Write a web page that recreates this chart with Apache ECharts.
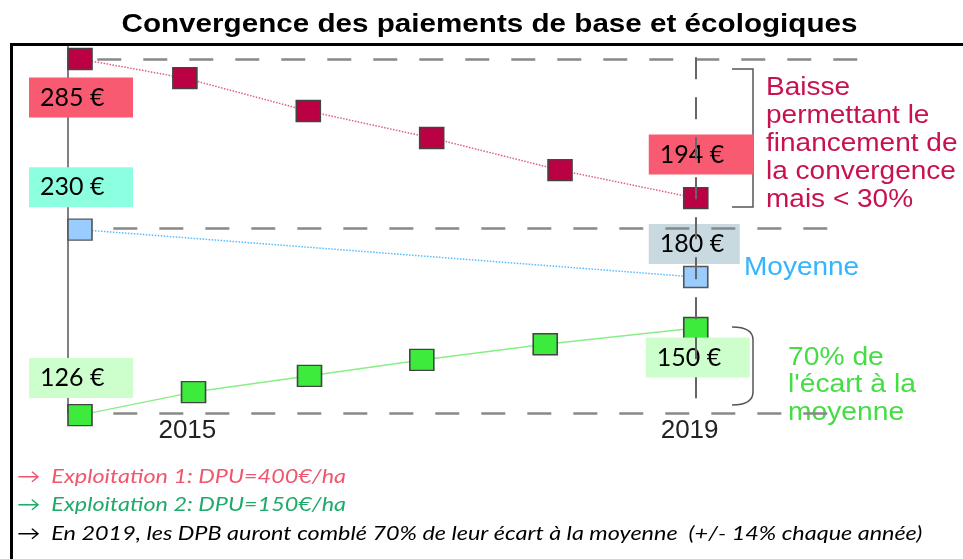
<!DOCTYPE html>
<html><head><meta charset="utf-8">
<script src="https://cdn.jsdelivr.net/npm/echarts@6/dist/echarts.min.js"></script>
<style>html,body{margin:0;padding:0;background:#fff}#c{width:963px;height:559px}</style>
</head><body><div id="c"></div>
<script>
// ---- data (vertical positions are the schematic levels, 0 = 2014 green level, 100 = 2014 red level)
const chartTitle = 'Convergence des paiements de base et écologiques';
const tickLabels = ['2015', '2019'];
const tickPositions = [2014.87, 2018.94];
const redX = [2014, 2014.85, 2015.85, 2016.85, 2017.89, 2018.99];
const redLevel = [100, 94.6, 85.3, 77.7, 68.6, 60.7];
const redEuro = ['285 €', '194 €'];
const blueX = [2014, 2018.99];
const blueLevel = [51.8, 38.4];
const blueEuro = ['230 €', '180 €'];
const greenX = [2014, 2014.92, 2015.86, 2016.77, 2017.77, 2018.99];
const greenLevel = [-0.6, 5.9, 10.5, 15.0, 19.4, 24.0];
const greenEuro = ['126 €', '150 €'];
const guideLevels = [100, 52.3, 0];
const guideStart = [2014.14, 2014.27, 2014.27];
const guideEnd = [2020.30, 2020.09, 2020.08];
const vGuideX = 2018.99;
const vGuideRange = [100.5, 4.2];
const notes = [
  '→  Exploitation 1: DPU=400€/ha',
  '→  Exploitation 2: DPU=150€/ha',
  '→  En 2019, les DPB auront comblé 70% de leur écart à la moyenne  (+/- 14% chaque année)'
];
const annBaisse = 'Baisse\npermettant le\nfinancement de\nla convergence\nmais < 30%';
const annMoy = 'Moyenne';
const annEcart = "70% de\nl'écart à la\nmoyenne";

const chart = echarts.init(document.getElementById('c'), null, {renderer: 'canvas'});

function boxLabel(text, bg, dx, dy, w) {
  return {
    show: true, position: 'inside', formatter: text,
    align: 'left', verticalAlign: 'middle',
    offset: [dx, dy],
    backgroundColor: bg, padding: [0, 0, 0, 11],
    width: w - 11, height: 40, lineHeight: 40,
    fontFamily: 'Lato', fontSize: 25, color: '#000'
  };
}
function build(xs, ys, labels, bg, offs, widths) {
  return xs.map((x, i) => {
    const d = {value: [x, ys[i]]};
    if (i === 0) d.label = boxLabel(labels[0], bg[0], offs[0][0], offs[0][1], widths[0]);
    if (i === xs.length - 1) d.label = boxLabel(labels[1], bg[1], offs[1][0], offs[1][1], widths[1]);
    return d;
  });
}

const guideData = guideLevels.map((lv, i) => [{coord: [guideStart[i], lv]}, {coord: [guideEnd[i], lv]}]);
const bracketStyle = {stroke: '#555', lineWidth: 1.5, fill: null};
const annFont = '25px "Liberation Sans"';
const noteFont = 'italic 19.5px Lato';

const option = {
  animation: false,
  grid: {left: 67.66, width: 814.44, top: 45, height: 368},
  xAxis: {
    type: 'value', min: 2013.9, max: 2020.5,
    axisLine: {show: false}, axisTick: {show: false}, splitLine: {show: false},
    axisLabel: {
      customValues: tickPositions,
      formatter: (v) => { const i = tickPositions.indexOf(v); return i >= 0 ? tickLabels[i] : ''; },
      margin: 5, fontFamily: 'Liberation Sans', fontSize: 26, color: '#222'
    }
  },
  yAxis: {
    type: 'value', min: 0, max: 103.955,
    axisLine: {show: true, lineStyle: {color: '#808080', width: 2}},
    axisTick: {show: false}, axisLabel: {show: false}, splitLine: {show: false}
  },
  series: [
    {
      type: 'line', data: [], z: 1, silent: true,
      markLine: {
        silent: true, symbol: ['none', 'none'], label: {show: false},
        lineStyle: {type: [24, 22], color: '#888', width: 2.5},
        data: guideData.concat([[{coord: [vGuideX, vGuideRange[0]], lineStyle: {type: [22, 18], color: '#666', width: 2}},
                                 {coord: [vGuideX, vGuideRange[1]]}]])
      }
    },
    {
      name: 'Exploitation 1', type: 'line', z: 3, clip: false,
      symbol: 'rect', symbolSize: [24, 21],
      itemStyle: {color: '#BB0044', borderColor: '#444', borderWidth: 1.5},
      lineStyle: {color: '#E0607A', width: 1.5, type: 'dotted'},
      data: build(redX, redLevel, redEuro, ['#F75A71', '#F75A71'], [[-51, 38.5], [-47, -43.5]], [104, 105])
    },
    {
      name: 'Moyenne', type: 'line', z: 3, clip: false,
      symbol: 'rect', symbolSize: [24, 21],
      itemStyle: {color: '#99CCFF', borderColor: '#555', borderWidth: 1.5},
      lineStyle: {color: '#55BBFF', width: 1.5, type: 'dotted'},
      data: build(blueX, blueLevel, blueEuro, ['#8CFFE0', '#C8D9E0'], [[-51, -42.5], [-47, -33]], [104, 91])
    },
    {
      name: 'Exploitation 2', type: 'line', z: 3, clip: false,
      symbol: 'rect', symbolSize: [24, 21],
      itemStyle: {color: '#3DEB3D', borderColor: '#444', borderWidth: 1.5},
      lineStyle: {color: '#88EE88', width: 1.5},
      data: build(greenX, greenLevel, greenEuro, ['#CCFFCC', '#CCFFCC'], [[-51, -37], [-50, 29.5]], [104, 104])
    }
  ],
  graphic: [
    {type: 'text', x: 489.5, y: 25, scaleX: 1.185, style: {text: chartTitle, font: 'bold 25px "Liberation Sans"', fill: '#000', align: 'center', verticalAlign: 'middle'}},
    {type: 'polyline', shape: {points: [[11.5, 559], [11.5, 44.5], [963, 44.5]]}, style: {stroke: '#000', lineWidth: 3, fill: null}, z: 10},
    {type: 'polyline', shape: {points: [[732, 69], [753, 69], [753, 207], [732, 207]]}, style: bracketStyle},
    {type: 'bezierCurve', shape: {x1: 732, y1: 327, cpx1: 753, cpy1: 327, x2: 753, y2: 340}, style: bracketStyle},
    {type: 'line', shape: {x1: 753, y1: 340, x2: 753, y2: 392}, style: bracketStyle},
    {type: 'bezierCurve', shape: {x1: 753, y1: 392, cpx1: 753, cpy1: 405, x2: 732, y2: 405}, style: bracketStyle},
    {type: 'text', x: 766, y: 74, scaleX: 1.12, style: {text: annBaisse, font: annFont, lineHeight: 28, fill: '#C8124F', verticalAlign: 'top'}},
    {type: 'text', x: 744, y: 268, scaleX: 1.12, style: {text: annMoy, font: annFont, fill: '#33B5FF', verticalAlign: 'middle'}},
    {type: 'text', x: 788, y: 344, scaleX: 1.13, style: {text: annEcart, font: annFont, lineHeight: 27.5, fill: '#44DD44', verticalAlign: 'top'}},
    {type: 'text', x: 17, y: 477, scaleX: 1.2, style: {text: notes[0], font: noteFont, fill: '#F0566E', verticalAlign: 'middle'}},
    {type: 'text', x: 17, y: 505, scaleX: 1.2, style: {text: notes[1], font: noteFont, fill: '#1FAA6A', verticalAlign: 'middle'}},
    {type: 'text', x: 17, y: 534, scaleX: 1.2, style: {text: notes[2], font: noteFont, fill: '#000', verticalAlign: 'middle'}}
  ]
};
chart.setOption(option);
</script></body></html>
